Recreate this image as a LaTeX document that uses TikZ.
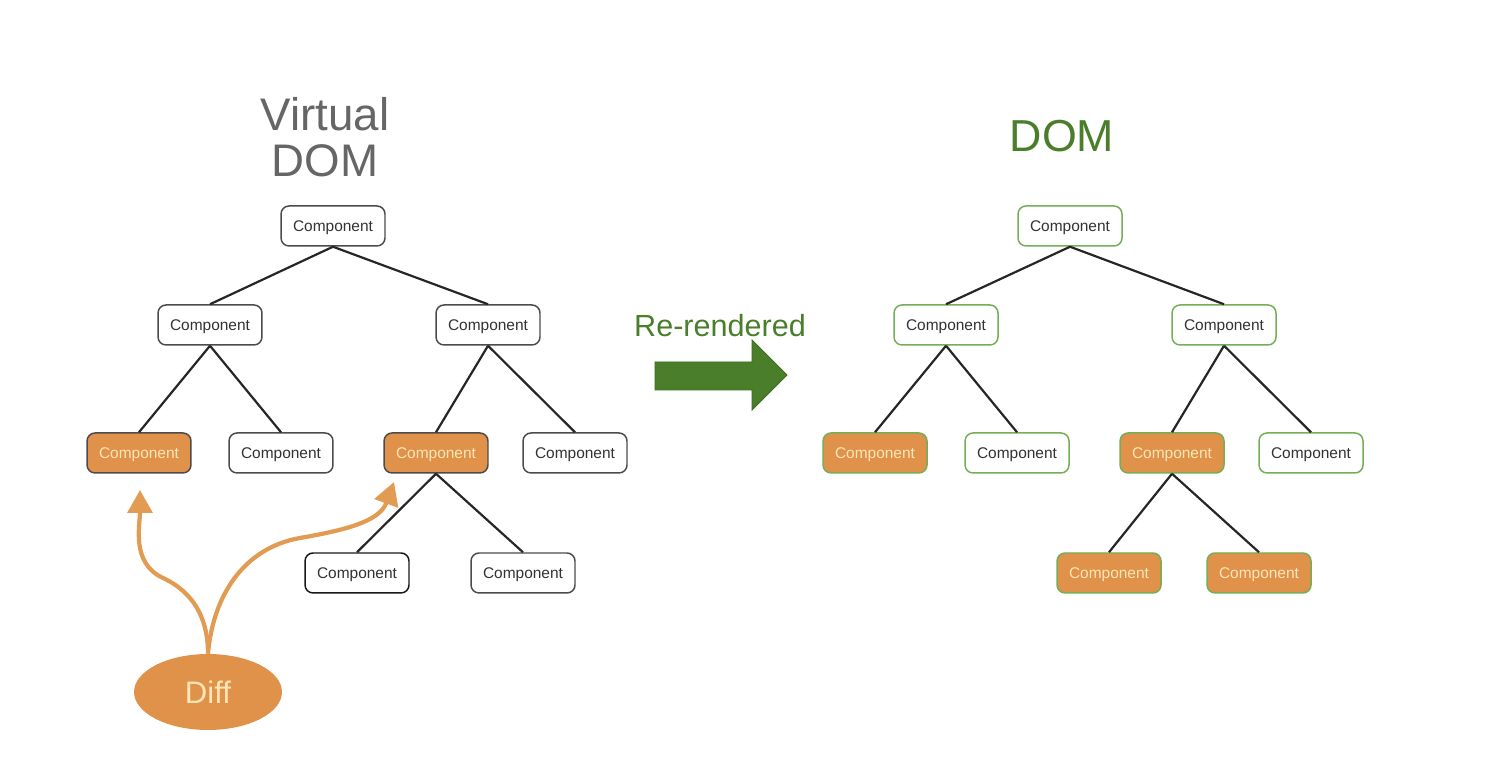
\documentclass[tikz,border=0pt]{standalone}
\usepackage{fontspec}
\setmainfont{Liberation Sans}
\usetikzlibrary{arrows.meta,shapes.geometric}

\definecolor{diffOrange}{HTML}{E0914A}
\definecolor{arrowOrange}{HTML}{E29B52}
\definecolor{creamText}{HTML}{FCE6B8}
\definecolor{titleGray}{HTML}{666666}
\definecolor{domGreen}{HTML}{4A7E2A}
\definecolor{domLine}{HTML}{74AE57}

\begin{document}
\begin{tikzpicture}[x=0.02cm, y=0.02cm,
    box/.style={draw=black!70, rounded corners=0.16cm, minimum width=2.08cm, minimum height=0.8cm, inner sep=0pt, text depth=0pt, line width=0.85pt, fill=white, text=black!80, font=\fontsize{8.8}{10}\selectfont},
    changedBox/.style={box, fill=diffOrange, text=creamText},
    domBox/.style={box, draw=domLine},
    domChangedBox/.style={domBox, fill=diffOrange, text=creamText},
    titleText/.style={align=center, font=\fontsize{26}{26}\selectfont},
    edge/.style={line width=1.25pt, draw=black!85},
    diffArrow/.style={-{Triangle[length=13pt, width=14pt]}, line width=2.4pt, draw=arrowOrange}
]
\useasboundingbox (0,0) rectangle (1506,766);

% virtual dom tree
\node[titleText, text=titleGray] (vTitle) at (325,629) {Virtual\\DOM};
\node[box] (v1) at (333,540) {Component};
\node[box] (v2) at (210,441) {Component};
\node[box] (v3) at (488,441) {Component};
\node[changedBox] (v4) at (139,313) {Component};
\node[box] (v5) at (281,313) {Component};
\node[changedBox] (v6) at (436,313) {Component};
\node[box] (v7) at (575,313) {Component};
\node[box, draw=black!90] (v8) at (357,193) {Component};
\node[box] (v9) at (523,193) {Component};
\draw[edge] (v1.south) -- (v2.north);
\draw[edge] (v1.south) -- (v3.north);
\draw[edge] (v2.south) -- (v4.north);
\draw[edge] (v2.south) -- (v5.north);
\draw[edge] (v3.south) -- (v6.north);
\draw[edge] (v3.south) -- (v7.north);
\draw[edge] (v6.south) -- (v8.north);
\draw[edge] (v6.south) -- (v9.north);

% diff
\node[ellipse, fill=diffOrange, minimum width=2.96cm, minimum height=1.52cm, inner sep=0pt, text=creamText, font=\fontsize{17.7}{20}\selectfont] (diff) at (208,74) {Diff};
\coordinate (leftTip) at (140,276);
\coordinate (rightTip) at (394,284);
\coordinate (leftBend) at (163,188);
\coordinate (rightBend) at (300,228);
\draw[diffArrow] (diff.north) to[out=90, in=-25] (leftBend) to[out=155, in=-90] (leftTip);
\draw[diffArrow] (diff.north) to[out=85, in=190] (rightBend) to[out=10, in=-110] (rightTip);

% re-rendered
\node[text=domGreen, font=\fontsize{17.4}{20}\selectfont] (reLabel) at (720,440) {Re-rendered};
\fill[domGreen, draw=domGreen!85!black, line width=0.5pt] (655,376) -- (752,376) -- (752,356) -- (787,391) -- (752,426) -- (752,404) -- (655,404) -- cycle;

% real dom tree
\node[titleText, text=domGreen, font=\fontsize{25.5}{29}\selectfont] (dTitle) at (1062,630) {DOM};
\node[domBox] (d1) at (1070,540) {Component};
\node[domBox] (d2) at (946,441) {Component};
\node[domBox] (d3) at (1224,441) {Component};
\node[domChangedBox] (d4) at (875,313) {Component};
\node[domBox] (d5) at (1017,313) {Component};
\node[domChangedBox] (d6) at (1172,313) {Component};
\node[domBox] (d7) at (1311,313) {Component};
\node[domChangedBox] (d8) at (1109,193) {Component};
\node[domChangedBox] (d9) at (1259,193) {Component};
\draw[edge] (d1.south) -- (d2.north);
\draw[edge] (d1.south) -- (d3.north);
\draw[edge] (d2.south) -- (d4.north);
\draw[edge] (d2.south) -- (d5.north);
\draw[edge] (d3.south) -- (d6.north);
\draw[edge] (d3.south) -- (d7.north);
\draw[edge] (d6.south) -- (d8.north);
\draw[edge] (d6.south) -- (d9.north);
\end{tikzpicture}
\end{document}
